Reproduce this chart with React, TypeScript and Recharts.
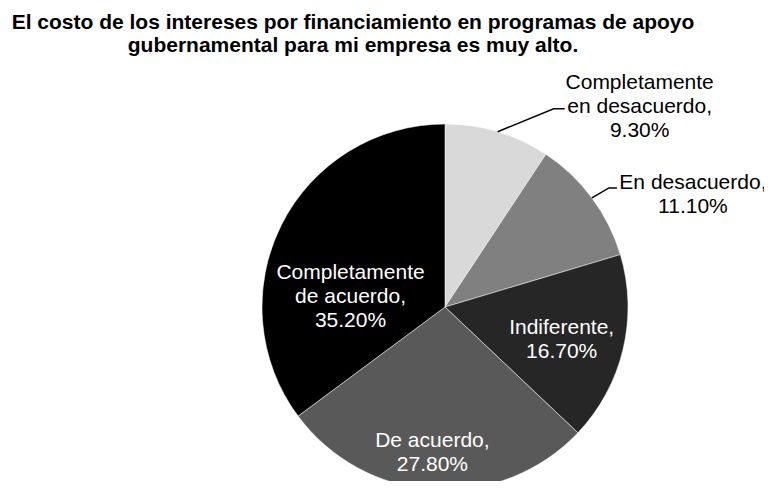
import React from 'react';
import { PieChart, Pie, Cell } from 'recharts';

// survey answers, in the order the slices run clockwise from 12 o'clock
const CATEGORY_LINES = [
  ['Completamente', 'en desacuerdo,'],
  ['En desacuerdo,'],
  ['Indiferente,'],
  ['De acuerdo,'],
  ['Completamente', 'de acuerdo,'],
];
const SHARES = [9.3, 11.1, 16.7, 27.8, 35.2];
const TITLE_LINES = [
  'El costo de los intereses por financiamiento en programas de apoyo',
  'gubernamental para mi empresa es muy alto.',
];

const COLORS = ['#d9d9d9', '#808080', '#262626', '#595959', '#000000'];
const FONT = '"Liberation Sans", Arial, Helvetica, sans-serif';
const LABEL_SIZE = 21;
const LINE_GAP = 24;

// where each label sits: outside ones get a leader line, inside ones are placed in polar terms
const LABEL_LAYOUT: any[] = [
  { outside: true, elbow: [56, -23], tail: 11, text: [142, -27] },
  { outside: true, elbow: [17, -10], tail: 8, text: [101, -5] },
  { outside: false, angle: -15, radius: 0.66 },
  { outside: false, angle: -95, radius: 0.79 },
  { outside: false, angle: 173, radius: 0.52 },
];

const data = CATEGORY_LINES.map((lines, i) => ({
  name: lines.join(' '),
  lines: [...lines, `${SHARES[i].toFixed(2)}%`],
  value: SHARES[i],
}));

const RAD = Math.PI / 180;

function renderLabel(props: any) {
  const { cx, cy, midAngle, outerRadius, index } = props;
  const layout = LABEL_LAYOUT[index];
  const lines: string[] = data[index].lines;
  let tx: number;
  let ty: number;
  let leader: React.ReactNode = null;
  let fill = '#ffffff';

  if (layout.outside) {
    const ex = cx + outerRadius * Math.cos(midAngle * RAD);
    const ey = cy - outerRadius * Math.sin(midAngle * RAD);
    const bx = ex + layout.elbow[0];
    const by = ey + layout.elbow[1];
    leader = (
      <polyline
        points={`${ex},${ey} ${bx},${by} ${bx + layout.tail},${by}`}
        fill="none"
        stroke="#000"
        strokeWidth={1.5}
      />
    );
    tx = ex + layout.text[0];
    ty = ey + layout.text[1];
    fill = '#000000';
  } else {
    const r = outerRadius * layout.radius;
    tx = cx + r * Math.cos(layout.angle * RAD);
    ty = cy - r * Math.sin(layout.angle * RAD);
  }

  return (
    <g key={`label-${index}`}>
      {leader}
      <text
        x={tx}
        textAnchor="middle"
        dominantBaseline="central"
        fontFamily={FONT}
        fontSize={LABEL_SIZE}
        fill={fill}
      >
        {lines.map((line, i) => (
          <tspan key={i} x={tx} y={ty + (i - (lines.length - 1) / 2) * LINE_GAP}>
            {line}
          </tspan>
        ))}
      </text>
    </g>
  );
}

export default function App() {
  return (
    <div
      style={{
        position: 'relative',
        width: 772,
        height: 489,
        margin: -8,
        overflow: 'hidden',
        background: '#fff',
        fontFamily: FONT,
      }}
    >
      <div
        style={{
          position: 'absolute',
          top: 10,
          left: 0,
          width: 706,
          textAlign: 'center',
          fontSize: 21,
          fontWeight: 'bold',
          lineHeight: '23px',
          color: '#000',
        }}
      >
        {TITLE_LINES.map((t) => (
          <div key={t}>{t}</div>
        ))}
      </div>
      <PieChart width={772} height={500} margin={{ top: 0, right: 0, bottom: 0, left: 0 }}>
        <Pie
          data={data}
          dataKey="value"
          nameKey="name"
          cx={445}
          cy={307}
          outerRadius={183}
          startAngle={90}
          endAngle={-270}
          stroke="#ffffff"
          strokeWidth={0.5}
          label={renderLabel}
          labelLine={false}
          isAnimationActive={false}
        >
          {data.map((d, i) => (
            <Cell key={d.name} fill={COLORS[i]} />
          ))}
        </Pie>
      </PieChart>
    </div>
  );
}
